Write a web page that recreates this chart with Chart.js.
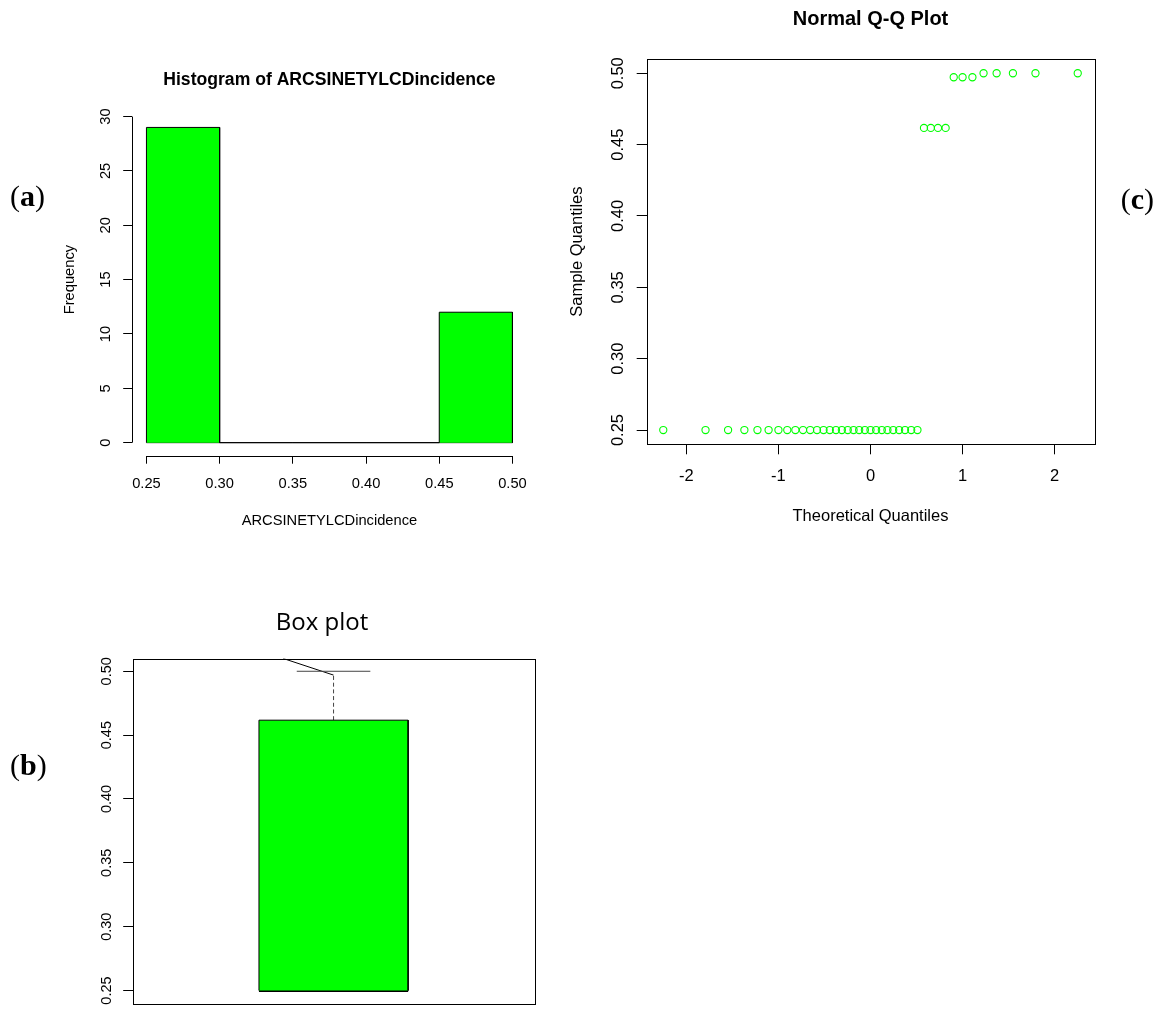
<!DOCTYPE html>
<html>
<head>
<meta charset="utf-8">
<title>ARCSINETYLCDincidence</title>
<script src="https://cdn.jsdelivr.net/npm/chart.js@4.4.1/dist/chart.umd.min.js"></script>
<style>
  html, body { margin: 0; padding: 0; background: #fff; }
  #page { position: relative; width: 1160px; height: 1011px; overflow: hidden; background: #fff; }
  #page canvas { position: absolute; }
  .tag { position: absolute; font-family: 'Liberation Serif', 'Times New Roman', serif; font-size: 30px;
         line-height: 30px; color: #000; white-space: nowrap; }
  .tag b { font-weight: bold; }
</style>
</head>
<body>
<div id="page">
  <canvas id="hist" width="560" height="580" style="left:0;top:0"></canvas>
  <canvas id="qq" width="600" height="580" style="left:560px;top:0"></canvas>
  <canvas id="box" width="560" height="431" style="left:0;top:580px"></canvas>
  <div class="tag" style="left:10px;top:180.6px">(<b>a</b>)</div>
  <div class="tag" style="left:10px;top:750px">(<b>b</b>)</div>
  <div class="tag" style="left:1120.7px;top:184.4px">(<b>c</b>)</div>
</div>
<script>
// ---- histogram of the transformed incidence ----
const histBreaks = [0.25, 0.30, 0.35, 0.40, 0.45, 0.50];
const histCounts = [29, 0, 0, 0, 12];
const histXTicks = [0.25, 0.30, 0.35, 0.40, 0.45, 0.50];
const histXLabels = ['0.25', '0.30', '0.35', '0.40', '0.45', '0.50'];
const histYTicks = [0, 5, 10, 15, 20, 25, 30];
const histYLabels = ['0', '5', '10', '15', '20', '25', '30'];

// ---- normal Q-Q plot ----
const qqTheoretical = [
  -2.251, -1.792, -1.547, -1.370, -1.228, -1.107, -1.000, -0.904, -0.816, -0.733,
  -0.655, -0.581, -0.510, -0.442, -0.375, -0.311, -0.247, -0.184, -0.123, -0.061,
   0.000,  0.061,  0.123,  0.184,  0.247,  0.311,  0.375,  0.442,  0.510,  0.581,
   0.655,  0.733,  0.816,  0.904,  1.000,  1.107,  1.228,  1.370,  1.547,  1.792,
   2.251
];
const qqSample = [
  0.25, 0.25, 0.25, 0.25, 0.25, 0.25, 0.25, 0.25, 0.25, 0.25,
  0.25, 0.25, 0.25, 0.25, 0.25, 0.25, 0.25, 0.25, 0.25, 0.25,
  0.25, 0.25, 0.25, 0.25, 0.25, 0.25, 0.25, 0.25, 0.25, 0.4617,
  0.4617, 0.4617, 0.4617, 0.4972, 0.4972, 0.4972, 0.50, 0.50, 0.50, 0.50,
  0.50
];
const qqXTicks = [-2, -1, 0, 1, 2];
const qqXLabels = ['-2', '-1', '0', '1', '2'];
const qqYTicks = [0.25, 0.30, 0.35, 0.40, 0.45, 0.50];
const qqYLabels = ['0.25', '0.30', '0.35', '0.40', '0.45', '0.50'];

// ---- box plot summary ----
const boxStatNames = ['q1', 'median', 'q3', 'whiskerEnd', 'upperCap'];
const boxStatValues = [0.25, 0.25, 0.4617, 0.497, 0.50];
const leaderX = [0.875, 1.0];
const leaderY = [0.51, 0.497];
const boxYTicks = [0.25, 0.30, 0.35, 0.40, 0.45, 0.50];
const boxYLabels = ['0.25', '0.30', '0.35', '0.40', '0.45', '0.50'];

// ---- shared drawing helpers ----
const SANS = "'Liberation Sans', Arial, Helvetica, sans-serif";
const font = (size, weight) => ({ family: SANS, size: size, weight: weight || 'normal', lineHeight: 1.2 });
const useTicks = values => scale => { scale.ticks = values.map(v => ({ value: v })); };
const crisp = v => Math.round(v) + 0.5;

// plot frame around the whole plotting region
const frameBox = {
  id: 'frameBox',
  afterDatasetsDraw(chart) {
    const { ctx, chartArea: a } = chart;
    ctx.save();
    ctx.strokeStyle = '#000';
    ctx.lineWidth = 1;
    ctx.strokeRect(crisp(a.left), crisp(a.top), Math.round(a.right - a.left), Math.round(a.bottom - a.top));
    ctx.restore();
  }
};

// axis lines that run from the first to the last tick only
const tickSpanAxes = {
  id: 'tickSpanAxes',
  afterDraw(chart) {
    const { ctx, chartArea: a, scales: { x, y } } = chart;
    const xt = x.ticks, yt = y.ticks;
    ctx.save();
    ctx.strokeStyle = '#000';
    ctx.lineWidth = 1;
    ctx.beginPath();
    ctx.moveTo(x.getPixelForValue(xt[0].value), crisp(a.bottom));
    ctx.lineTo(x.getPixelForValue(xt[xt.length - 1].value), crisp(a.bottom));
    ctx.moveTo(crisp(a.left), y.getPixelForValue(yt[0].value));
    ctx.lineTo(crisp(a.left), y.getPixelForValue(yt[yt.length - 1].value));
    ctx.stroke();
    ctx.restore();
  }
};

const baseOptions = () => ({
  responsive: false,
  animation: false,
  devicePixelRatio: 1,
  events: [],
});

// ================= (a) histogram =================
// bar outline: up, across and down for every bin, filled down to zero
const histOutline = [{ x: histBreaks[0], y: 0 }];
histCounts.forEach((c, i) => {
  histOutline.push({ x: histBreaks[i], y: c }, { x: histBreaks[i + 1], y: c });
});
histOutline.push({ x: histBreaks[histBreaks.length - 1], y: 0 });
const histBase = [{ x: histBreaks[0], y: 0 }, { x: histBreaks[histBreaks.length - 1], y: 0 }];

new Chart(document.getElementById('hist'), {
  type: 'line',
  data: {
    datasets: [{
      data: histOutline,
      borderColor: '#000',
      borderWidth: 1,
      backgroundColor: '#00ff00',
      fill: 'origin',
      pointRadius: 0,
      tension: 0
    }, {
      data: histBase,
      borderColor: '#000',
      borderWidth: 1,
      pointRadius: 0,
      fill: false
    }]
  },
  options: Object.assign(baseOptions(), {
    layout: { autoPadding: false, padding: { left: 0, right: 32.9, top: 0, bottom: 34.3 } },
    plugins: {
      legend: { display: false },
      tooltip: { enabled: false },
      title: {
        display: true, text: 'Histogram of ARCSINETYLCDincidence', fullSize: false, color: '#000',
        font: font(17.6, 'bold'), padding: { top: 69.4, bottom: 13.0 }
      }
    },
    scales: {
      x: {
        type: 'linear', min: 0.24, max: 0.51,
        afterBuildTicks: useTicks(histXTicks),
        afterFit: s => { s.height = 90; },
        border: { display: false },
        grid: { drawOnChartArea: false, drawTicks: true, tickLength: 8, color: '#000', lineWidth: 1 },
        ticks: { autoSkip: false, maxRotation: 0, padding: 11.8, color: '#000', font: font(14.7),
                 callback: (v, i) => histXLabels[i] },
        title: { display: true, text: 'ARCSINETYLCDincidence', color: '#000', font: font(14.7),
                 padding: { top: 0, bottom: 15.9 } }
      },
      y: {
        type: 'linear', min: -1.2, max: 31.2,
        afterBuildTicks: useTicks(histYTicks),
        afterFit: s => { s.width = 131.8; },
        border: { display: false },
        grid: { drawOnChartArea: false, drawTicks: true, tickLength: 8.6, color: '#000', lineWidth: 1 },
        ticks: { autoSkip: false, minRotation: 90, maxRotation: 90, crossAlign: 'center', padding: 8.7,
                 color: '#000', font: font(14.7), callback: (v, i) => histYLabels[i] },
        title: { display: true, text: 'Frequency', color: '#000', font: font(14.7),
                 padding: { top: 61.4, bottom: 0 } }
      }
    }
  }),
  plugins: [tickSpanAxes]
});

// ================= (c) normal Q-Q plot =================
new Chart(document.getElementById('qq'), {
  type: 'scatter',
  data: {
    datasets: [{
      data: qqTheoretical.map((t, i) => ({ x: t, y: qqSample[i] })),
      pointStyle: 'circle',
      pointRadius: 3.6,
      borderWidth: 1.1,
      borderColor: '#00ff00',
      backgroundColor: 'rgba(0,0,0,0)'
    }]
  },
  options: Object.assign(baseOptions(), {
    layout: { autoPadding: false, padding: { left: 0, right: 65.7, top: 0, bottom: 35.7 } },
    plugins: {
      legend: { display: false },
      tooltip: { enabled: false },
      title: {
        display: true, text: 'Normal Q-Q Plot', fullSize: false, color: '#000',
        font: font(20, 'bold'), padding: { top: 7.6, bottom: 27.4 }
      }
    },
    scales: {
      x: {
        type: 'linear', min: -2.431, max: 2.431,
        afterBuildTicks: useTicks(qqXTicks),
        afterFit: s => { s.height = 100; },
        border: { display: false },
        grid: { drawOnChartArea: false, drawTicks: true, tickLength: 10, color: '#000', lineWidth: 1 },
        ticks: { autoSkip: false, maxRotation: 0, padding: 12.5, color: '#000', font: font(16.5),
                 callback: (v, i) => qqXLabels[i] },
        title: { display: true, text: 'Theoretical Quantiles', color: '#000', font: font(16.5),
                 padding: { top: 0, bottom: 17.6 } }
      },
      y: {
        type: 'linear', min: 0.24, max: 0.51,
        afterBuildTicks: useTicks(qqYTicks),
        afterFit: s => { s.width = 86.7; },
        border: { display: false },
        grid: { drawOnChartArea: false, drawTicks: true, tickLength: 10, color: '#000', lineWidth: 1 },
        ticks: { autoSkip: false, minRotation: 90, maxRotation: 90, crossAlign: 'center', padding: 2.4,
                 color: '#000', font: font(16.5), callback: (v, i) => qqYLabels[i] },
        title: { display: true, text: 'Sample Quantiles', color: '#000', font: font(16.5),
                 padding: { top: 7.3, bottom: 0 } }
      }
    }
  }),
  plugins: [frameBox]
});

// ================= (b) box plot =================
const stat = name => boxStatValues[boxStatNames.indexOf(name)];
const BOX_POS = 1;          // group position on the x scale
const BOX_HALF = 0.1855;    // half width of the box
const CAP_HALF = 0.0915;    // half width of the whisker cap
const q1 = stat('q1'), med = stat('median'), q3 = stat('q3');

new Chart(document.getElementById('box'), {
  type: 'line',
  data: {
    datasets: [
      { // box body, filled down to the lower hinge
        data: [
          { x: BOX_POS - BOX_HALF, y: q1 }, { x: BOX_POS - BOX_HALF, y: q3 },
          { x: BOX_POS + BOX_HALF, y: q3 }, { x: BOX_POS + BOX_HALF, y: q1 }
        ],
        borderColor: '#000', borderWidth: 1, backgroundColor: '#00ff00',
        fill: { value: q1 }, pointRadius: 0, tension: 0
      },
      { // median
        data: [{ x: BOX_POS - BOX_HALF, y: med }, { x: BOX_POS + BOX_HALF, y: med }],
        borderColor: '#000', borderWidth: 3, pointRadius: 0, fill: false
      },
      { // upper whisker
        data: [{ x: BOX_POS, y: q3 }, { x: BOX_POS, y: stat('whiskerEnd') }],
        borderColor: '#444', borderWidth: 1, borderDash: [4, 2.7], pointRadius: 0, fill: false
      },
      { // upper cap
        data: [{ x: BOX_POS - CAP_HALF, y: stat('upperCap') }, { x: BOX_POS + CAP_HALF, y: stat('upperCap') }],
        borderColor: '#444', borderWidth: 1, pointRadius: 0, fill: false
      },
      { // leader line
        data: leaderX.map((x, i) => ({ x: x, y: leaderY[i] })),
        borderColor: '#000', borderWidth: 1, pointRadius: 0, fill: false
      }
    ]
  },
  options: Object.assign(baseOptions(), {
    layout: { autoPadding: false, padding: { left: 109.4, right: 25.4, top: 0, bottom: 7.7 } },
    plugins: {
      legend: { display: false },
      tooltip: { enabled: false },
      title: {
        display: true, text: 'Box plot', color: '#000',
        font: { family: "'Open Sans', 'Liberation Sans', sans-serif", size: 24, weight: 'normal', lineHeight: 1.2 },
        padding: { top: 28.9, bottom: 20.8 }
      }
    },
    scales: {
      x: { type: 'linear', min: 0.5, max: 1.5, display: false },
      y: {
        type: 'linear', min: 0.24, max: 0.51,
        afterBuildTicks: useTicks(boxYTicks),
        afterFit: s => { s.width = 23.1; },
        border: { display: false },
        grid: { drawOnChartArea: false, drawTicks: true, tickLength: 9.3, color: '#000', lineWidth: 1 },
        // labels are placed with mirror so they are not clipped to the narrow axis box
        ticks: { autoSkip: false, minRotation: 90, maxRotation: 90, crossAlign: 'center', mirror: true,
                 padding: -39.5, color: '#000', font: font(14.5), callback: (v, i) => boxYLabels[i] }
      }
    }
  }),
  plugins: [frameBox]
});
</script>
</body>
</html>
